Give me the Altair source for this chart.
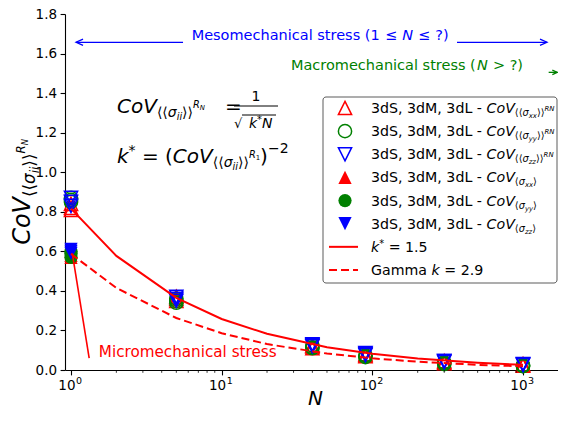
import altair as alt
import pandas as pd

# ---------------- values ----------------
N_pts = [1, 5, 40, 90, 300, 1000]

xx_RN_3dS = [0.81, 0.36, 0.120, 0.075, 0.040, 0.025]
xx_RN_3dM = [0.82, 0.35, 0.110, 0.070, 0.035, 0.022]
xx_RN_3dL = [0.84, 0.37, 0.125, 0.080, 0.045, 0.030]
yy_RN_3dS = [0.86, 0.35, 0.115, 0.070, 0.035, 0.020]
yy_RN_3dM = [0.87, 0.36, 0.125, 0.075, 0.040, 0.025]
yy_RN_3dL = [0.85, 0.34, 0.110, 0.065, 0.030, 0.020]
zz_RN_3dS = [0.83, 0.36, 0.130, 0.080, 0.045, 0.028]
zz_RN_3dM = [0.85, 0.37, 0.120, 0.085, 0.045, 0.030]
zz_RN_3dL = [0.87, 0.35, 0.125, 0.075, 0.040, 0.025]

N_single = [1, 1, 1]              # 3dS, 3dM, 3dL
xx_single = [0.57, 0.58, 0.60]
yy_single = [0.57, 0.59, 0.60]
zz_single = [0.59, 0.60, 0.61]

N_curve = [1, 2, 5, 10, 20, 50, 100, 200, 500, 1000]
kstar_curve = [0.816, 0.577, 0.365, 0.258, 0.183, 0.115, 0.082, 0.058, 0.037, 0.026]
gamma_curve = [0.587, 0.415, 0.263, 0.186, 0.131, 0.083, 0.059, 0.042, 0.026, 0.019]

N_micro = [1.02, 1.32]
micro_curve = [0.59, 0.06]

x_major = [1, 10, 100, 1000]
x_major_base = ["10", "10", "10", "10"]
x_major_exp = ["0", "1", "2", "3"]
x_minor = [2, 3, 4, 5, 6, 7, 8, 9, 20, 30, 40, 50, 60, 70, 80, 90,
           200, 300, 400, 500, 600, 700, 800, 900]
y_ticks = [0.0, 0.2, 0.4, 0.6, 0.8, 1.0, 1.2, 1.4, 1.6, 1.8]

meso_y = 1.657
meso_left, meso_gap_l, meso_gap_r, meso_right = 1.08, 5.54, 364.7, 1443
meso_text_N = 45
macro_text_N, macro_text_y = 1000, 1.519
macro_arrow = [1480, 1690]
macro_arrow_y = 1.505
micro_text_N, micro_text_y = 1.53, 0.065

legend_prefix = "3dS, 3dM, 3dL - "
components = ["xx", "yy", "zz"]

# ---------------- styling ----------------
RED, GREEN, BLUE = "#ff0000", "#008000", "#0000ff"
FONT = "DejaVu Sans"
W, H = 493, 356
xscale = alt.Scale(type="log", domain=[0.9124, 1707], nice=False)
yscale = alt.Scale(domain=[0.0, 1.8], nice=False, zero=False)
XAXIS = alt.Axis(values=x_major, labels=False, ticks=True, tickSize=4.9, tickWidth=1.1,
                 tickColor="black", domainColor="black", domainWidth=1.1, grid=False, title=None)
YAXIS = alt.Axis(values=y_ticks, format=".1f", labelFont=FONT, labelFontSize=13.5,
                 labelColor="black", labelPadding=3.5, tickSize=4.9, tickWidth=1.1,
                 tickColor="black", domainColor="black", domainWidth=1.1, grid=False, title=None)
UP = "M0,-1L1,1L-1,1Z"
DOWN = "M0,1L1,-1L-1,-1Z"
LCHEV = "M1,-0.45L0,0L1,0.45"
RCHEV = "M-1,-0.45L0,0L-1,0.45"
MSIZE = 175

EM = {' ': 0.318, ',': 0.318, '.': 0.318, '-': 0.361, '=': 0.838, '(': 0.390, ')': 0.390,
      '?': 0.531, '≤': 0.838, '>': 0.838, '−': 0.838, '*': 0.500, '√': 0.636,
      '⟨': 0.39, '⟩': 0.39, 'σ': 0.634, 'C': 0.698, 'G': 0.775, 'L': 0.557, 'M': 0.863,
      'N': 0.748, 'R': 0.695, 'S': 0.635, 'V': 0.684, 'a': 0.613, 'c': 0.550, 'd': 0.635,
      'e': 0.615, 'h': 0.634, 'i': 0.278, 'k': 0.579, 'l': 0.278, 'm': 0.974, 'n': 0.634,
      'o': 0.612, 'r': 0.411, 's': 0.521, 't': 0.392, 'x': 0.592, 'y': 0.592, 'z': 0.525}
for _d in "0123456789":
    EM[_d] = 0.636


def tw(s, size):
    return sum(EM.get(c, 0.6) for c in s) * size


ONE = pd.DataFrame({"k": [0]})


def xe():
    return alt.X("N:Q", scale=xscale, axis=XAXIS)


def ye():
    return alt.Y("v:Q", scale=yscale, axis=YAXIS)


def mark_txt(df, text, size, italic, color, **kw):
    return alt.Chart(df).mark_text(text=text, font=FONT, fontSize=size,
                                   fontStyle="italic" if italic else "normal",
                                   color=color, baseline="alphabetic", **kw)


def piece_layers(pieces, align, place):
    def adv(p):
        return tw(p[0], p[1]) + (p[4] if len(p) > 4 else 0)
    total = sum(adv(p) for p in pieces)
    off = {"left": 0.0, "center": -total / 2, "right": -total}[align]
    out = []
    for p in pieces:
        text, size, italic, shift = p[:4]
        pre = p[5] if len(p) > 5 else 0
        lead = len(text) - len(text.lstrip(" "))
        out.append(place(text.strip(), size, italic, shift, off + pre + tw(" " * lead, size)))
        off += adv(p)
    return out


def rich_px(pieces, x, y, color="black", align="left", angle=0):
    def place(t, s, it, sh, off):
        if angle == 270:
            return mark_txt(ONE, t, s, it, color, align="left", angle=270).encode(
                x=alt.value(x + sh), y=alt.value(y - off))
        return mark_txt(ONE, t, s, it, color, align="left").encode(
            x=alt.value(x + off), y=alt.value(y + sh))
    return piece_layers(pieces, align, place)


def rich_data(pieces, n, v, dy=0, color="black", align="left"):
    df = pd.DataFrame({"N": [n], "v": [v]})

    def place(t, s, it, sh, off):
        return mark_txt(df, t, s, it, color, align="left", dx=off, dy=dy + sh).encode(x=xe(), y=ye())
    return piece_layers(pieces, align, place)


def series_df(N, *vals):
    rows = []
    for vs in vals:
        for n, v in zip(N, vs):
            rows.append({"N": n, "v": v})
    return pd.DataFrame(rows)


def pts(df, shape, color, filled):
    return (alt.Chart(df).mark_point(shape=shape, filled=filled, color=color, size=MSIZE,
                                     strokeWidth=1.5, opacity=1)
            .encode(x=xe(), y=ye()))


layers = []
# data markers
layers.append(pts(series_df(N_pts, xx_RN_3dS, xx_RN_3dM, xx_RN_3dL), UP, RED, False))
layers.append(pts(series_df(N_pts, yy_RN_3dS, yy_RN_3dM, yy_RN_3dL), "circle", GREEN, False))
layers.append(pts(series_df(N_pts, zz_RN_3dS, zz_RN_3dM, zz_RN_3dL), DOWN, BLUE, False))
layers.append(pts(series_df(N_single, xx_single), UP, RED, True))
layers.append(pts(series_df(N_single, yy_single), "circle", GREEN, True))
layers.append(pts(series_df(N_single, zz_single), DOWN, BLUE, True))

# curves
layers.append(alt.Chart(pd.DataFrame({"N": N_curve, "v": kstar_curve}))
              .mark_line(color=RED, strokeWidth=2).encode(x=xe(), y=ye()))
layers.append(alt.Chart(pd.DataFrame({"N": N_curve, "v": gamma_curve}))
              .mark_line(color=RED, strokeWidth=2, strokeDash=[8, 4]).encode(x=xe(), y=ye()))
layers.append(alt.Chart(pd.DataFrame({"N": N_micro, "v": micro_curve}))
              .mark_line(color=RED, strokeWidth=1.6).encode(x=xe(), y=ye()))

# minor x ticks
layers.append(alt.Chart(pd.DataFrame({"N": x_minor})).mark_rule(color="black", strokeWidth=0.8)
              .encode(x=xe(), y=alt.value(H), y2=alt.value(H + 2.8)))
# x tick labels 10^k
lab = pd.DataFrame({"N": x_major, "base": x_major_base, "exp": x_major_exp})
layers.append(alt.Chart(lab).mark_text(font=FONT, fontSize=13.5, align="right", baseline="alphabetic",
                                       dx=4.5, color="black")
              .encode(x=xe(), y=alt.value(H + 20), text="base:N"))
layers.append(alt.Chart(lab).mark_text(font=FONT, fontSize=9.5, align="left", baseline="alphabetic",
                                       dx=5, color="black")
              .encode(x=xe(), y=alt.value(H + 14), text="exp:N"))
# x title
layers += rich_px([("N", 20, True, 0)], W / 2 + 4, H + 35, align="center")
# y title (rotated)
layers += rich_px([("CoV", 24, True, 0), ("⟨⟨", 16.8, False, 5), ("σ", 16.8, True, 5),
                   ("ii", 11.8, True, 8.5), ("⟩⟩", 16.8, False, 5), ("R", 11.8, True, -5.5),
                   ("N", 8.3, True, -2)], -35, H / 2, align="center", angle=270)

# meso arrow
seg = pd.DataFrame({"N": [meso_left, meso_gap_r], "N2": [meso_gap_l, meso_right], "v": [meso_y, meso_y]})
layers.append(alt.Chart(seg).mark_rule(color=BLUE, strokeWidth=1.3)
              .encode(x=xe(), x2="N2:Q", y=ye()))
layers.append(alt.Chart(pd.DataFrame({"N": [meso_left], "v": [meso_y]}))
              .mark_point(shape=LCHEV, filled=False, color=BLUE, size=196, strokeWidth=1.3, opacity=1)
              .encode(x=xe(), y=ye()))
layers.append(alt.Chart(pd.DataFrame({"N": [meso_right], "v": [meso_y]}))
              .mark_point(shape=RCHEV, filled=False, color=BLUE, size=196, strokeWidth=1.3, opacity=1)
              .encode(x=xe(), y=ye()))
layers += rich_data([("Mesomechanical stress (1", 14.5, False, 0),
                     ("≤", 14.5, False, 0, 10, 5), ("N", 14.5, True, 0),
                     ("≤", 14.5, False, 0, 10, 5), ("?)", 14.5, False, 0)],
                    meso_text_N, meso_y, dy=-2, color=BLUE, align="center")
# macro
layers.append(alt.Chart(pd.DataFrame({"N": [macro_arrow[0]], "N2": [macro_arrow[1]], "v": [macro_arrow_y]}))
              .mark_rule(color=GREEN, strokeWidth=1.3).encode(x=xe(), x2="N2:Q", y=ye()))
layers.append(alt.Chart(pd.DataFrame({"N": [macro_arrow[1]], "v": [macro_arrow_y]}))
              .mark_point(shape=RCHEV, filled=False, color=GREEN, size=100, strokeWidth=1.3, opacity=1)
              .encode(x=xe(), y=ye()))
layers += rich_data([("Macromechanical stress (", 14.5, False, 0), ("N", 14.5, True, 0, 1, 0.5),
                     (" > ?)", 14.5, False, 0)], macro_text_N, macro_text_y, color=GREEN, align="right")
# micro
layers += rich_data([("Micromechanical stress", 15.2, False, 0)], micro_text_N, micro_text_y, color=RED)

# formulas (axes-fixed, pixel positions in plot area)
layers += rich_px([("CoV", 20, True, 0), ("⟨⟨", 14, False, 4), ("σ", 14, True, 4), ("ii", 9.8, True, 7),
                   ("⟩⟩", 14, False, 4), ("R", 9.8, True, -5), ("N", 6.9, True, -3)], 52, 99)
layers += rich_px([("=", 20, False, 0)], 160, 99)
layers.append(alt.Chart(ONE).mark_rule(color="black", strokeWidth=1)
              .encode(x=alt.value(169), x2=alt.value(213), y=alt.value(92)))
layers += rich_px([("1", 14, False, 0)], 191, 87, align="center")
layers += rich_px([("√", 13, False, 0)], 169, 114)
layers.append(alt.Chart(ONE).mark_rule(color="black", strokeWidth=1)
              .encode(x=alt.value(177), x2=alt.value(211), y=alt.value(101)))
layers += rich_px([("k", 14, True, 0), ("*", 9.8, False, -5), ("N", 14, True, 0)], 184, 114)

layers += rich_px([("k", 20, True, 0), ("*", 14, False, -8), (" = ", 20, False, 0), ("(", 20, False, 0),
                   ("CoV", 20, True, 0), ("⟨⟨", 14, False, 4), ("σ", 14, True, 4), ("ii", 9.8, True, 7),
                   ("⟩⟩", 14, False, 4), ("R", 9.8, True, -5), ("1", 6.9, False, -3), (")", 20, False, 0),
                   ("−2", 14, False, -10)], 52, 149)

# legend
LX0, LX1, LY0, LY1 = 258, 492, 83, 269
layers.append(alt.Chart(ONE).mark_rect(fill="white", stroke="#333333", strokeOpacity=0.8, strokeWidth=1,
                                       cornerRadius=3)
              .encode(x=alt.value(LX0), x2=alt.value(LX1), y=alt.value(LY0), y2=alt.value(LY1)))
row_y = [94 + 23.14 * i for i in range(8)]
sym_x = 280
leg_syms = [(UP, RED, False), ("circle", GREEN, False), (DOWN, BLUE, False),
            (UP, RED, True), ("circle", GREEN, True), (DOWN, BLUE, True)]
for i, (shp, col, fil) in enumerate(leg_syms):
    layers.append(alt.Chart(ONE).mark_point(shape=shp, filled=fil, color=col, size=MSIZE,
                                            strokeWidth=1.5, opacity=1)
                  .encode(x=alt.value(sym_x), y=alt.value(row_y[i])))
    comp = components[i % 3]
    if i < 3:
        sub = [("⟨⟨", 9.8, False, 3), ("σ", 9.8, True, 3), (comp, 6.9, True, 5),
               ("⟩⟩", 9.8, False, 3), ("RN", 6.9, True, -2.5)]
    else:
        sub = [("⟨", 9.8, False, 3), ("σ", 9.8, True, 3), (comp, 6.9, True, 5), ("⟩", 9.8, False, 3)]
    layers += rich_px([(legend_prefix, 14.2, False, 0), ("CoV", 14.2, True, 0)] + sub, 306, row_y[i] + 5)
layers.append(alt.Chart(ONE).mark_rule(color=RED, strokeWidth=2)
              .encode(x=alt.value(264), x2=alt.value(293), y=alt.value(row_y[6])))
layers.append(alt.Chart(ONE).mark_rule(color=RED, strokeWidth=2, strokeDash=[8, 4])
              .encode(x=alt.value(264), x2=alt.value(293), y=alt.value(row_y[7])))
layers += rich_px([("k", 14.2, True, 0), ("*", 9.8, False, -5), (" = 1.5", 14.2, False, 0)], 306, row_y[6] + 5)
layers += rich_px([("Gamma ", 14.2, False, 0), ("k", 14.2, True, 0), (" = 2.9", 14.2, False, 0)], 306, row_y[7] + 5)

chart = (alt.layer(*layers)
         .properties(width=W, height=H,
                     padding={"left": 57, "top": 6, "right": 0, "bottom": 40},
                     autosize=alt.AutoSizeParams(type="none"))
         .configure_view(strokeWidth=0))

chart.save("out.html", embed_options={"renderer": "svg", "actions": False})
